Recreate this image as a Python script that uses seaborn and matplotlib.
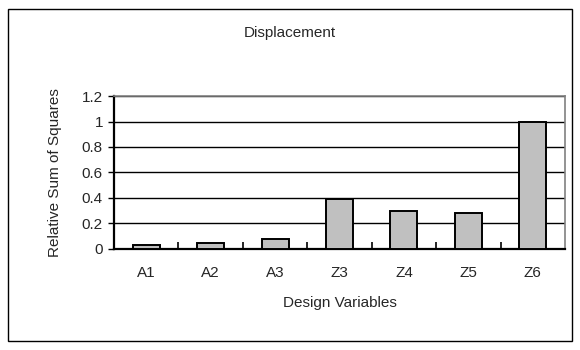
import matplotlib
matplotlib.use("Agg")
import matplotlib.pyplot as plt
from matplotlib.patches import Rectangle
from matplotlib.transforms import Bbox, TransformedBbox
import seaborn as sns
import pandas as pd

# data
variables = ["A1", "A2", "A3", "Z3", "Z4", "Z5", "Z6"]
rel_ss = [0.03, 0.05, 0.08, 0.395, 0.30, 0.285, 1.0]
y_ticks = [0, 0.2, 0.4, 0.6, 0.8, 1, 1.2]
y_tick_labels = ["0", "0.2", "0.4", "0.6", "0.8", "1", "1.2"]

sns.set_style("white")
plt.rcParams["font.family"] = ["Liberation Sans", "DejaVu Sans"]
fs = 11

df = pd.DataFrame({"var": variables, "val": rel_ss})

fig = plt.figure(figsize=(5.8, 3.5), dpi=100)
ax = fig.add_axes([0.1966, 0.2886, 0.7776, 0.4371])

sns.barplot(data=df, x="var", y="val", color="#C0C0C0", saturation=1,
            edgecolor="black", linewidth=1.4, width=0.42, ax=ax, zorder=3)

ax.set_ylim(0, 1.2)
ax.set_xlim(-0.5, len(variables) - 0.5)
ax.set_yticks(y_ticks)
ax.set_yticklabels(y_tick_labels)
ax.yaxis.grid(True, color="black", linewidth=1)
ax.set_axisbelow(True)

# minor ticks between categories, pointing up
ax.set_xticks([i + 0.5 for i in range(len(variables) - 1)], minor=True)
ax.tick_params(axis="x", which="major", length=0, pad=12, labelsize=fs)
ax.tick_params(axis="x", which="minor", direction="in", length=5, width=1.2,
               color="black", bottom=True)
ax.tick_params(axis="y", direction="out", length=4, width=1, color="black",
               left=True, labelsize=fs, pad=4)

for side in ["left", "bottom"]:
    ax.spines[side].set_color("black")
    ax.spines[side].set_linewidth(1.6)
for side in ["top", "right"]:
    ax.spines[side].set_color("#808080")
    ax.spines[side].set_linewidth(1.2)

ax.set_xlabel("Design Variables", fontsize=fs)
ax.set_ylabel("Relative Sum of Squares", fontsize=fs)
ax.xaxis.set_label_coords(0.5, 1 - (303 - 96) / 153, transform=ax.transAxes)
ax.yaxis.set_label_coords(55 / 580, 0.5)
ax.yaxis.label.set_transform(
    matplotlib.transforms.blended_transform_factory(fig.transFigure, ax.transAxes))
ax.xaxis.label.set_va("center")
ax.yaxis.label.set_va("center")
# the label is cut off at the top in the original
ax.yaxis.label.set_clip_box(TransformedBbox(Bbox([[0, 0], [1, 1 - 86 / 350]]), fig.transFigure))
ax.yaxis.label.set_clip_on(True)

fig.text(0.5, 1 - 33 / 350, "Displacement", ha="center", va="center", fontsize=fs)

fig.patches.append(Rectangle((8 / 580, 9 / 350), 564 / 580, 332 / 350, fill=False,
                             edgecolor="black", linewidth=1, transform=fig.transFigure))

fig.savefig("out.png", dpi=100)
